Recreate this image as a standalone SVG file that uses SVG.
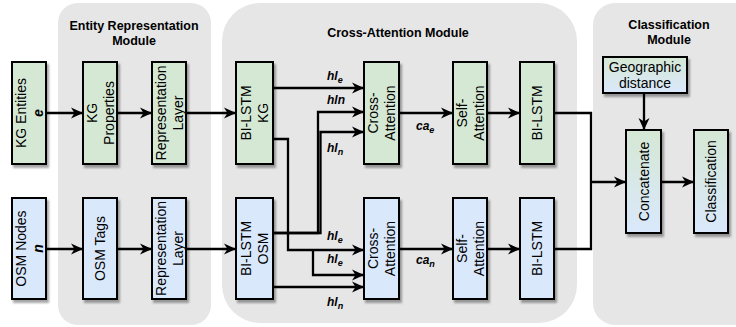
<svg xmlns="http://www.w3.org/2000/svg" width="736" height="327" viewBox="0 0 736 327">
<style>
.mod{fill:#e6e6e6;stroke:none}
.title{font-family:"Liberation Sans",Arial,sans-serif;font-size:12.5px;font-weight:bold;fill:#000;text-anchor:middle}
.g{fill:#d5e8d4;stroke:#000;stroke-width:2;filter:url(#sh)}
.b{fill:#dae8fc;stroke:#000;stroke-width:2;filter:url(#sh)}
.gb{fill:url(#grad);stroke:#000;stroke-width:2;filter:url(#sh)}
.t{font-family:"Liberation Sans",Arial,sans-serif;font-size:14px;fill:#000;text-anchor:middle}
.bi{font-weight:bold;font-style:italic}
.c{fill:none;stroke:#000;stroke-width:2.3;stroke-linejoin:miter}
.a{marker-end:url(#ar)}
.lb{font-family:"Liberation Sans",Arial,sans-serif;font-size:12px;font-weight:bold;font-style:italic;fill:#000}
.sub{font-size:9px}
</style>
<defs>
<linearGradient id="grad" x1="0" y1="0" x2="0" y2="1">
<stop offset="0" stop-color="#d5e8d4"/>
<stop offset="1" stop-color="#dae8fc"/>
</linearGradient>
<filter id="sh" x="-20%" y="-20%" width="150%" height="150%">
<feDropShadow dx="2" dy="3" stdDeviation="0.8" flood-color="#000" flood-opacity="0.35"/>
</filter>
<marker id="ar" markerUnits="userSpaceOnUse" markerWidth="13" markerHeight="12" refX="12" refY="5.5" orient="auto" viewBox="0 0 13 11">
<path d="M0,0 L12,5.5 L0,11 L3.5,5.5 z" fill="#000"/>
</marker>
</defs>

<g id="modules">
<rect class="mod" x="58" y="3" width="153" height="322" rx="20"/>
<rect class="mod" x="222" y="3" width="355" height="320" rx="38"/>
<rect class="mod" x="593" y="3" width="170" height="322" rx="22"/>
<text class="title" x="134" y="30">Entity Representation</text>
<text class="title" x="134" y="45">Module</text>
<text class="title" x="398" y="37">Cross-Attention Module</text>
<text class="title" x="669" y="29">Classification</text>
<text class="title" x="669" y="44">Module</text>
</g>

<g id="connectors">
<path class="c a" d="M46,113 H83"/>
<path class="c a" d="M117,113 H152"/>
<path class="c a" d="M186,113 H236"/>
<path class="c a" d="M46,249 H83"/>
<path class="c a" d="M117,249 H152"/>
<path class="c a" d="M186,249 H236"/>
<path class="c a" d="M273,88 H364"/>
<path class="c a" d="M273,233 H318 V112 H364"/>
<path class="c a" d="M273,233 H320.5 V132 H364"/>
<path class="c a" d="M273,139 H288 V250 H364"/>
<path class="c a" d="M313,250 V275 H364"/>
<path class="c a" d="M273,287 H364"/>
<path class="c a" d="M399,113 H453"/>
<path class="c a" d="M487,113 H520"/>
<path class="c a" d="M399,249 H453"/>
<path class="c a" d="M487,249 H520"/>
<path class="c" d="M554,113 H591 V249 H554"/>
<path class="c a" d="M591,182 H626"/>
<path class="c a" d="M644,93 V130"/>
<path class="c a" d="M661,182 H694"/>
<text class="lb" x="327" y="80">hl<tspan class="sub" dy="3">e</tspan></text>
<text class="lb" x="327" y="104">hln</text>
<text class="lb" x="327" y="152">hl<tspan class="sub" dy="3">n</tspan></text>
<text class="lb" x="327" y="240">hl<tspan class="sub" dy="3">e</tspan></text>
<text class="lb" x="327" y="263">hl<tspan class="sub" dy="3">e</tspan></text>
<text class="lb" x="327" y="306">hl<tspan class="sub" dy="3">n</tspan></text>
<text class="lb" x="416" y="130">ca<tspan class="sub" dy="3">e</tspan></text>
<text class="lb" x="416" y="264">ca<tspan class="sub" dy="3">n</tspan></text>
</g>

<g id="kg-entities">
<rect class="g" x="12" y="62" width="34" height="102"/>
<g transform="translate(29,113) rotate(-90)"><text class="t" y="-3.5">KG Entities</text><text class="t bi" y="13.5">e</text></g>
</g>
<g id="kg-properties">
<rect class="g" x="83" y="62" width="34" height="102"/>
<g transform="translate(100,113) rotate(-90)"><text class="t" y="-3.5">KG</text><text class="t" y="13.5">Properties</text></g>
</g>
<g id="rep-layer-kg">
<rect class="g" x="152" y="62" width="34" height="102"/>
<g transform="translate(169,113) rotate(-90)"><text class="t" y="-3.5">Representation</text><text class="t" y="13.5">Layer</text></g>
</g>
<g id="bilstm-kg">
<rect class="g" x="236" y="62" width="37" height="102"/>
<g transform="translate(254.5,113) rotate(-90)"><text class="t" y="-3.5">BI-LSTM</text><text class="t" y="13.5">KG</text></g>
</g>
<g id="cross-attention-kg">
<rect class="g" x="364" y="62" width="35" height="102"/>
<g transform="translate(381.5,113) rotate(-90)"><text class="t" y="-3.5">Cross-</text><text class="t" y="13.5">Attention</text></g>
</g>
<g id="self-attention-kg">
<rect class="g" x="453" y="62" width="34" height="102"/>
<g transform="translate(470,113) rotate(-90)"><text class="t" y="-3.5">Self-</text><text class="t" y="13.5">Attention</text></g>
</g>
<g id="bilstm2-kg">
<rect class="g" x="520" y="62" width="34" height="102"/>
<g transform="translate(537,113) rotate(-90)"><text class="t" y="5">BI-LSTM</text></g>
</g>

<g id="osm-nodes">
<rect class="b" x="12" y="198" width="34" height="101"/>
<g transform="translate(29,248.5) rotate(-90)"><text class="t" y="-3.5">OSM Nodes</text><text class="t bi" y="13.5">n</text></g>
</g>
<g id="osm-tags">
<rect class="b" x="83" y="198" width="34" height="101"/>
<g transform="translate(100,248.5) rotate(-90)"><text class="t" y="5">OSM Tags</text></g>
</g>
<g id="rep-layer-osm">
<rect class="b" x="152" y="198" width="34" height="101"/>
<g transform="translate(169,248.5) rotate(-90)"><text class="t" y="-3.5">Representation</text><text class="t" y="13.5">Layer</text></g>
</g>
<g id="bilstm-osm">
<rect class="b" x="236" y="198" width="37" height="101"/>
<g transform="translate(254.5,248.5) rotate(-90)"><text class="t" y="-3.5">BI-LSTM</text><text class="t" y="13.5">OSM</text></g>
</g>
<g id="cross-attention-osm">
<rect class="b" x="364" y="198" width="35" height="101"/>
<g transform="translate(381.5,248.5) rotate(-90)"><text class="t" y="-3.5">Cross-</text><text class="t" y="13.5">Attention</text></g>
</g>
<g id="self-attention-osm">
<rect class="b" x="453" y="198" width="34" height="101"/>
<g transform="translate(470,248.5) rotate(-90)"><text class="t" y="-3.5">Self-</text><text class="t" y="13.5">Attention</text></g>
</g>
<g id="bilstm2-osm">
<rect class="b" x="520" y="198" width="34" height="101"/>
<g transform="translate(537,248.5) rotate(-90)"><text class="t" y="5">BI-LSTM</text></g>
</g>

<g id="geo-distance">
<rect class="gb" x="603" y="57" width="84" height="36"/>
<text class="t" x="645" y="72">Geographic</text>
<text class="t" x="645" y="88">distance</text>
</g>
<g id="concatenate">
<rect class="gb" x="626" y="130" width="35" height="103"/>
<g transform="translate(643.5,181.5) rotate(-90)"><text class="t" y="5">Concatenate</text></g>
</g>
<g id="classification">
<rect class="gb" x="694" y="130" width="34" height="103"/>
<g transform="translate(711,181.5) rotate(-90)"><text class="t" y="5">Classification</text></g>
</g>
</svg>
